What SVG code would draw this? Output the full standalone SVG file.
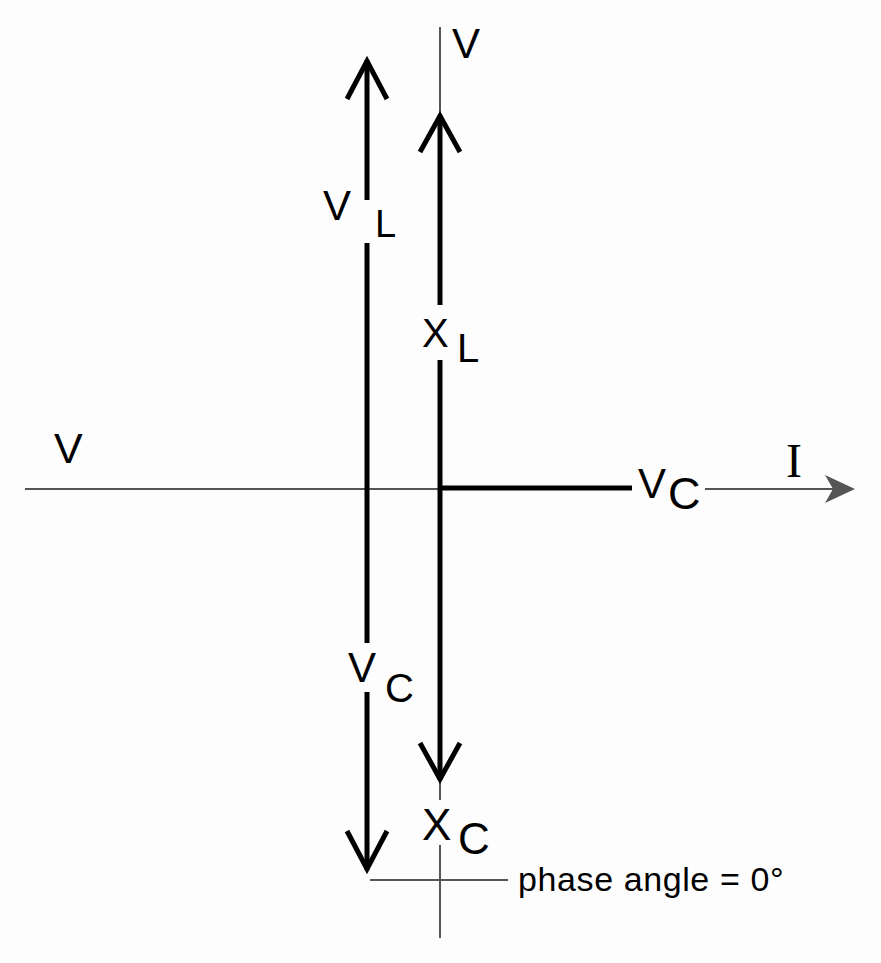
<svg xmlns="http://www.w3.org/2000/svg" width="881" height="963" viewBox="0 0 881 963">
<style>
.axis{stroke:#555;stroke-width:2;fill:none}
.vec{stroke:#000;stroke-width:5;fill:none;stroke-linecap:butt}
.head{stroke:#000;stroke-width:5;fill:none;stroke-linejoin:miter;stroke-miterlimit:10}
.lbl{font-family:"Liberation Sans",Arial,sans-serif;fill:#000}
.ser{font-family:"Liberation Serif","Times New Roman",serif;fill:#000}
</style>
<rect width="881" height="963" fill="#fdfdfd"/>
<g id="connectors">
  <line class="axis" x1="25" y1="489" x2="632" y2="489"/>
  <line class="axis" x1="705" y1="489" x2="835" y2="489"/>
  <path d="M855,489 L825,475 L833,489 L825,503 Z" fill="#555"/>
  <line class="axis" x1="440" y1="27" x2="440" y2="113"/>
  <line class="axis" x1="440" y1="782" x2="440" y2="800"/>
  <line class="axis" x1="440" y1="845" x2="440" y2="938"/>
  <line class="axis" x1="370" y1="880" x2="508" y2="880"/>
  <line class="vec" x1="367" y1="60" x2="367" y2="200"/>
  <line class="vec" x1="367" y1="243" x2="367" y2="643"/>
  <line class="vec" x1="367" y1="692" x2="367" y2="870"/>
  <polyline class="head" points="347,99 367,61 387,99"/>
  <polyline class="head" points="347,831 367,869 387,831"/>
  <line class="vec" x1="440" y1="115" x2="440" y2="305"/>
  <line class="vec" x1="440" y1="360" x2="440" y2="780"/>
  <polyline class="head" points="420,152 440,116 460,152"/>
  <polyline class="head" points="420,743 440,779 460,743"/>
  <line class="vec" x1="438" y1="488" x2="632" y2="488"/>
</g>
<g id="label-V-top"><text class="lbl" x="452" y="58" font-size="42">V</text></g>
<g id="label-V-left"><text class="lbl" x="54" y="463" font-size="43">V</text></g>
<g id="label-VL"><text class="lbl" x="323" y="220" font-size="42">V</text><text class="lbl" x="375" y="237" font-size="38">L</text></g>
<g id="label-XL"><text class="lbl" x="422" y="347" font-size="40">X</text><text class="lbl" x="457" y="362" font-size="40">L</text></g>
<g id="label-VC-h"><text class="lbl" x="638" y="498" font-size="42">V</text><text class="lbl" x="668" y="509" font-size="45">C</text></g>
<g id="label-I"><text class="ser" x="786" y="477" font-size="48">I</text></g>
<g id="label-VC-v"><text class="lbl" x="348" y="682" font-size="42">V</text><text class="lbl" x="385" y="702" font-size="40">C</text></g>
<g id="label-XC"><text class="lbl" x="422" y="840" font-size="44">X</text><text class="lbl" x="458" y="854" font-size="44">C</text></g>
<g id="label-phase"><text class="lbl" x="518" y="891" font-size="34" letter-spacing="0.6">phase angle = 0°</text></g>
</svg>
